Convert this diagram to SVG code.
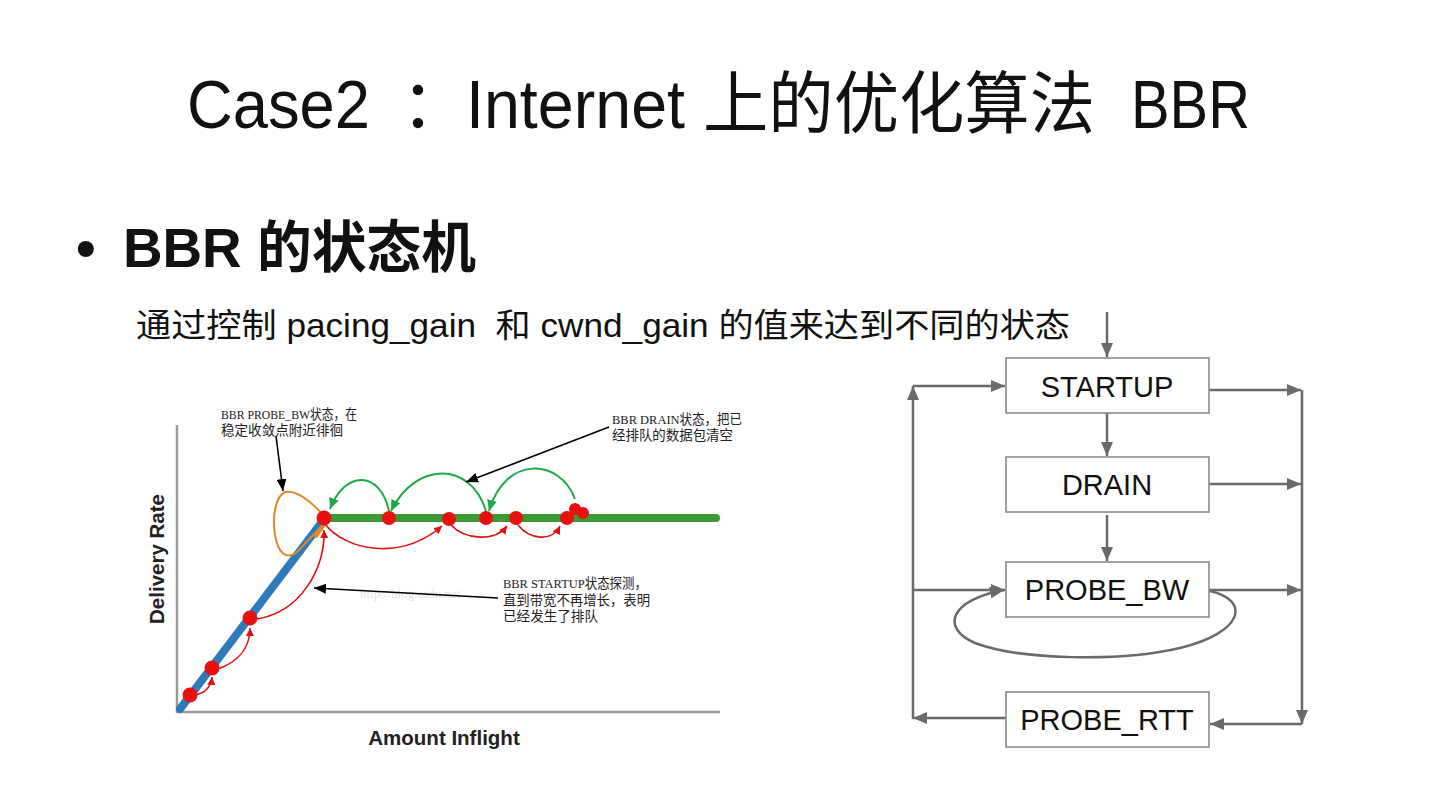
<svg xmlns="http://www.w3.org/2000/svg" width="1440" height="810" viewBox="0 0 1440 810">
<defs>
<style>
.title{font-family:"Liberation Sans","Noto Sans CJK SC",sans-serif;font-size:68px;fill:#111}
.bullet{font-family:"Liberation Sans","Noto Sans CJK SC",sans-serif;font-size:56px;font-weight:bold;fill:#111}
.sub{font-family:"Liberation Sans","Noto Sans CJK SC",sans-serif;font-size:33px;fill:#111}
.note{font-family:"Liberation Serif","Noto Sans CJK SC",serif;font-size:13.5px;fill:#222}
.axis{font-family:"Liberation Sans",sans-serif;font-size:20.5px;font-weight:bold;fill:#222}
.box{fill:#fff;stroke:#8a8a8a;stroke-width:1.6}
.lbl{font-family:"Liberation Sans",sans-serif;font-size:29px;fill:#111;text-anchor:middle}
.conn{fill:none;stroke:#6a6a6a;stroke-width:2.5}
</style>
<marker id="ga" markerUnits="userSpaceOnUse" markerWidth="14" markerHeight="12" refX="14" refY="6" orient="auto"><path d="M0,0 L14,6 L0,12 z" fill="#6a6a6a"/></marker>
<marker id="ra" markerUnits="userSpaceOnUse" markerWidth="8" markerHeight="8" refX="8" refY="4" orient="auto"><path d="M0,0 L8,4 L0,8 z" fill="#e01010"/></marker>
<marker id="gra" markerUnits="userSpaceOnUse" markerWidth="11" markerHeight="10" refX="11" refY="5" orient="auto"><path d="M0,0 L11,5 L0,10 z" fill="#1fa84a"/></marker>
<marker id="ka" markerUnits="userSpaceOnUse" markerWidth="12" markerHeight="10" refX="12" refY="5" orient="auto"><path d="M0,0 L12,5 L0,10 z" fill="#000"/></marker>
</defs>
<rect width="1440" height="810" fill="#fff"/>

<text class="title" y="128"><tspan x="187" textLength="183" lengthAdjust="spacingAndGlyphs">Case2</tspan><tspan x="401">：</tspan><tspan x="466" textLength="219" lengthAdjust="spacingAndGlyphs">Internet</tspan><tspan x="703" textLength="392" lengthAdjust="spacingAndGlyphs">上的优化算法</tspan><tspan x="1131" textLength="119" lengthAdjust="spacingAndGlyphs">BBR</tspan></text>
<text class="bullet" x="76" y="267">•</text>
<text class="bullet" x="123" y="267" textLength="353" lengthAdjust="spacingAndGlyphs">BBR 的状态机</text>
<text class="sub" x="136" y="337" textLength="934" lengthAdjust="spacingAndGlyphs" xml:space="preserve">通过控制 pacing_gain  和 cwnd_gain 的值来达到不同的状态</text>

<!-- chart -->
<g id="chart">
<path d="M177,425 L177,712 L720,712" fill="none" stroke="#9a9a9a" stroke-width="2.5"/>
<text class="axis" transform="translate(164,559) rotate(-90)" text-anchor="middle">Delivery Rate</text>
<text class="axis" x="444" y="745" text-anchor="middle">Amount Inflight</text>
<text x="360" y="598" font-family="Liberation Serif,serif" font-size="13px" fill="#e4e4e4">http://blog.csdn.net</text>
<line x1="180" y1="709" x2="325" y2="518" stroke="#2f7ab8" stroke-width="8" stroke-linecap="round"/>
<line x1="325" y1="518" x2="716" y2="518" stroke="#3c9a34" stroke-width="8" stroke-linecap="round"/>
<!-- orange loop -->
<path d="M325,517 C310,500 296,490 285,492 C276,496 272,515 275,535 C278,552 285,560 296,553 L322,526" fill="none" stroke="#e08a2e" stroke-width="2"/>
<line x1="316" y1="536" x2="323" y2="526" stroke="#e08a2e" stroke-width="4" stroke-linecap="round"/>
<!-- green arcs -->
<path d="M389,511 C380,470 345,470 330,509" fill="none" stroke="#1fa84a" stroke-width="2" marker-end="url(#gra)"/>
<path d="M486,511 C470,460 415,462 391,511" fill="none" stroke="#1fa84a" stroke-width="2" marker-end="url(#gra)"/>
<path d="M575,499 C560,458 505,455 489,511" fill="none" stroke="#1fa84a" stroke-width="2" marker-end="url(#gra)"/>
<!-- red arcs -->
<path d="M325,524 C345,550 400,562 442,526" fill="none" stroke="#e01010" stroke-width="1.6" marker-end="url(#ra)"/>
<path d="M451,525 C465,540 495,542 507,526" fill="none" stroke="#e01010" stroke-width="1.6" marker-end="url(#ra)"/>
<path d="M518,525 C530,540 552,542 560,526" fill="none" stroke="#e01010" stroke-width="1.6" marker-end="url(#ra)"/>
<path d="M195,695 C205,693 211,688 212,677" fill="none" stroke="#e01010" stroke-width="1.6" marker-end="url(#ra)"/>
<path d="M218,669 C238,662 250,648 250,628" fill="none" stroke="#e01010" stroke-width="1.6" marker-end="url(#ra)"/>
<path d="M257,619 C300,612 325,570 324,530" fill="none" stroke="#e01010" stroke-width="1.6" marker-end="url(#ra)"/>
<!-- dots -->
<g fill="#e81010">
<circle cx="190" cy="695" r="7.5"/>
<circle cx="212" cy="668" r="7.5"/>
<circle cx="250" cy="618" r="7.5"/>
<circle cx="324" cy="518" r="7.5"/>
<circle cx="389" cy="518" r="7"/>
<circle cx="449" cy="519" r="7"/>
<circle cx="486" cy="518" r="7"/>
<circle cx="516" cy="518" r="7"/>
<circle cx="567" cy="518" r="7"/>
<circle cx="575" cy="509" r="6"/>
<circle cx="583" cy="513" r="6"/>
</g>
<!-- black annotation arrows -->
<line x1="276" y1="436" x2="283" y2="491" stroke="#000" stroke-width="1.6" marker-end="url(#ka)"/>
<line x1="609" y1="427" x2="466" y2="482" stroke="#000" stroke-width="1.6" marker-end="url(#ka)"/>
<line x1="498" y1="598" x2="314" y2="588" stroke="#000" stroke-width="1.6" marker-end="url(#ka)"/>
<text class="note" x="221" y="419" textLength="136" lengthAdjust="spacingAndGlyphs">BBR PROBE_BW状态，在</text>
<text class="note" x="221" y="435" textLength="122" lengthAdjust="spacingAndGlyphs">稳定收敛点附近徘徊</text>
<text class="note" x="612" y="424" textLength="130" lengthAdjust="spacingAndGlyphs">BBR DRAIN状态，把已</text>
<text class="note" x="612" y="440" textLength="121" lengthAdjust="spacingAndGlyphs">经排队的数据包清空</text>
<text class="note" x="503" y="588" textLength="144" lengthAdjust="spacingAndGlyphs">BBR STARTUP状态探测，</text>
<text class="note" x="503" y="605" textLength="147" lengthAdjust="spacingAndGlyphs">直到带宽不再增长，表明</text>
<text class="note" x="503" y="621" textLength="95" lengthAdjust="spacingAndGlyphs">已经发生了排队</text>
</g>

<!-- state machine connectors -->
<g id="connectors">
<line class="conn" x1="1107" y1="312" x2="1107" y2="357" marker-end="url(#ga)"/>
<line class="conn" x1="1107" y1="413" x2="1107" y2="456" marker-end="url(#ga)"/>
<line class="conn" x1="1107" y1="515" x2="1107" y2="561" marker-end="url(#ga)"/>
<line class="conn" x1="1209" y1="390" x2="1301" y2="390" marker-end="url(#ga)"/>
<line class="conn" x1="1209" y1="484" x2="1301" y2="484" marker-end="url(#ga)"/>
<line class="conn" x1="1209" y1="590" x2="1301" y2="590" marker-end="url(#ga)"/>
<line class="conn" x1="1302" y1="390" x2="1302" y2="724" marker-end="url(#ga)"/>
<line class="conn" x1="1302" y1="724" x2="1210" y2="724" marker-end="url(#ga)"/>
<line class="conn" x1="1006" y1="718" x2="913" y2="718" marker-end="url(#ga)"/>
<line class="conn" x1="913" y1="719" x2="913" y2="386" marker-end="url(#ga)"/>
<line class="conn" x1="913" y1="386" x2="1005" y2="386" marker-end="url(#ga)"/>
<line class="conn" x1="913" y1="590" x2="1005" y2="590" marker-end="url(#ga)"/>
<path class="conn" d="M1210,591 C1250,600 1245,632 1180,648 C1120,662 1020,660 975,643 C940,628 950,600 1004,590" marker-end="url(#ga)"/>
</g>

<g id="startup"><rect class="box" x="1006" y="358" width="203" height="55"/><text class="lbl" x="1107" y="397">STARTUP</text></g>
<g id="drain"><rect class="box" x="1006" y="457" width="203" height="55"/><text class="lbl" x="1107" y="495">DRAIN</text></g>
<g id="probe_bw"><rect class="box" x="1006" y="562" width="203" height="55"/><text class="lbl" x="1107" y="600">PROBE_BW</text></g>
<g id="probe_rtt"><rect class="box" x="1006" y="692" width="203" height="55"/><text class="lbl" x="1107" y="730">PROBE_RTT</text></g>
</svg>
